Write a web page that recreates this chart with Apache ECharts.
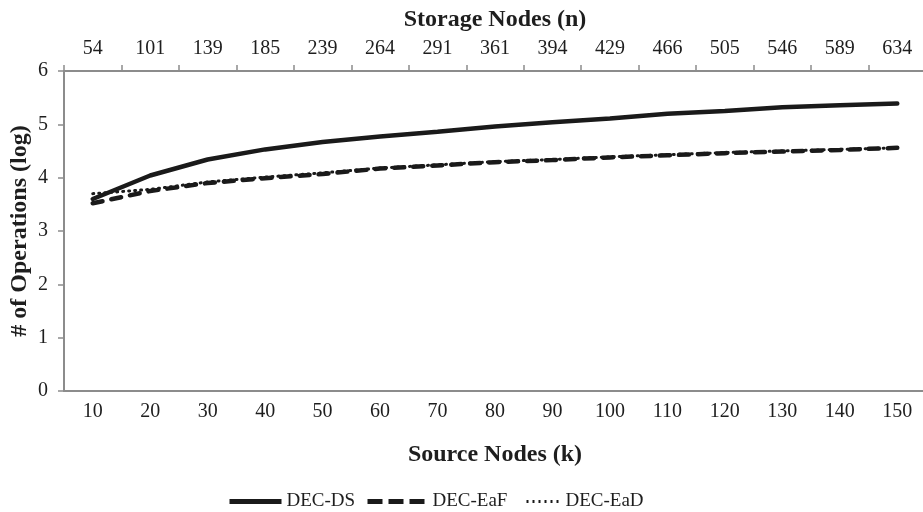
<!DOCTYPE html>
<html>
<head>
<meta charset="utf-8">
<script src="https://cdn.jsdelivr.net/npm/echarts@6/dist/echarts.min.js"></script>
<style>html,body{margin:0;padding:0;background:#fff}#c{width:923px;height:512px}</style>
</head>
<body>
<div id="c"></div>
<script>
const sourceNodes = ['10','20','30','40','50','60','70','80','90','100','110','120','130','140','150'];
const storageNodes = ['54','101','139','185','239','264','291','361','394','429','466','505','546','589','634'];
const decDS  = [3.60, 4.04, 4.34, 4.53, 4.67, 4.77, 4.86, 4.96, 5.04, 5.11, 5.20, 5.25, 5.32, 5.36, 5.39];
const decEaF = [3.52, 3.75, 3.90, 3.99, 4.07, 4.17, 4.23, 4.29, 4.33, 4.38, 4.42, 4.46, 4.49, 4.52, 4.56];
const decEaD = [3.70, 3.78, 3.92, 4.01, 4.09, 4.18, 4.24, 4.30, 4.34, 4.39, 4.43, 4.47, 4.50, 4.53, 4.56];
const yTicks = [0,1,2,3,4,5,6];

const font = '"Liberation Serif", "DejaVu Serif", serif';
const axisGrey = '#8c8c8c';
const txt = '#1e1e1e';
const ink = '#1a1a1a';
const legendBase = (left, w, name, ls) => ({
  top: 487, left: left, itemWidth: w, itemHeight: 14,
  itemStyle: { opacity: 0 },
  textStyle: { fontFamily: font, fontSize: 19, color: txt },
  data: [{ name: name, lineStyle: ls }]
});
const chart = echarts.init(document.getElementById('c'));
chart.setOption({
  animation: false,
  backgroundColor: '#fff',
  grid: { left: 64, right: -3, top: 71, bottom: 121, containLabel: false, outerBoundsMode: 'none' },
  legend: [
    legendBase(222, 52, 'DEC-DS', { color: ink, width: 5, type: 'solid', cap: 'butt' }),
    legendBase(360, 60, 'DEC-EaF', { color: ink, width: 5, type: [15, 6], cap: 'butt' }),
    legendBase(520, 34, 'DEC-EaD', { color: ink, width: 3, type: [2, 4], cap: 'butt' })
  ],
  xAxis: [{
    type: 'category', position: 'bottom', data: sourceNodes,
    name: 'Source Nodes (k)', nameLocation: 'middle', nameGap: 52, nameMoveOverlap: false,
    nameTextStyle: { fontFamily: font, fontSize: 24, fontWeight: 'bold', color: txt },
    axisLine: { lineStyle: { color: axisGrey, width: 2 } },
    axisTick: { show: false },
    axisLabel: { fontFamily: font, fontSize: 20, color: txt, margin: 11 }
  }, {
    type: 'category', position: 'top', data: storageNodes,
    name: 'Storage Nodes (n)', nameLocation: 'middle', nameGap: 39, nameMoveOverlap: false,
    nameTextStyle: { fontFamily: font, fontSize: 24, fontWeight: 'bold', color: txt },
    axisLine: { lineStyle: { color: axisGrey, width: 2 } },
    axisTick: { show: true, length: 6, lineStyle: { color: axisGrey, width: 1.5 } },
    axisLabel: { fontFamily: font, fontSize: 20, color: txt, margin: 12 }
  }],
  yAxis: {
    type: 'value', min: 0, max: 6, interval: 1,
    name: '# of Operations (log)', nameLocation: 'middle', nameGap: 32, nameRotate: 90, nameMoveOverlap: false,
    nameTextStyle: { fontFamily: font, fontSize: 24, fontWeight: 'bold', color: txt },
    axisLine: { show: true, lineStyle: { color: axisGrey, width: 2 } },
    axisTick: { show: true, length: 6, lineStyle: { color: axisGrey, width: 1.5 } },
    splitLine: { show: false },
    axisLabel: { fontFamily: font, fontSize: 20, color: txt, margin: 16,
      formatter: v => yTicks.includes(v) ? String(v) : '' }
  },
  series: [{
    name: 'DEC-DS', type: 'line', data: decDS, xAxisIndex: 0, symbol: 'none', z: 3,
    lineStyle: { color: ink, width: 4.5, type: 'solid', cap: 'round' }, itemStyle: { color: ink }
  }, {
    name: 'DEC-EaF', type: 'line', data: decEaF, xAxisIndex: 0, symbol: 'none', z: 2,
    lineStyle: { color: ink, width: 4.5, type: [10, 9], cap: 'round' }, itemStyle: { color: ink }
  }, {
    name: 'DEC-EaD', type: 'line', data: decEaD, xAxisIndex: 0, symbol: 'none', z: 2,
    lineStyle: { color: ink, width: 3, type: [1, 5], cap: 'round' }, itemStyle: { color: ink }
  }]
});
</script>
</body>
</html>
